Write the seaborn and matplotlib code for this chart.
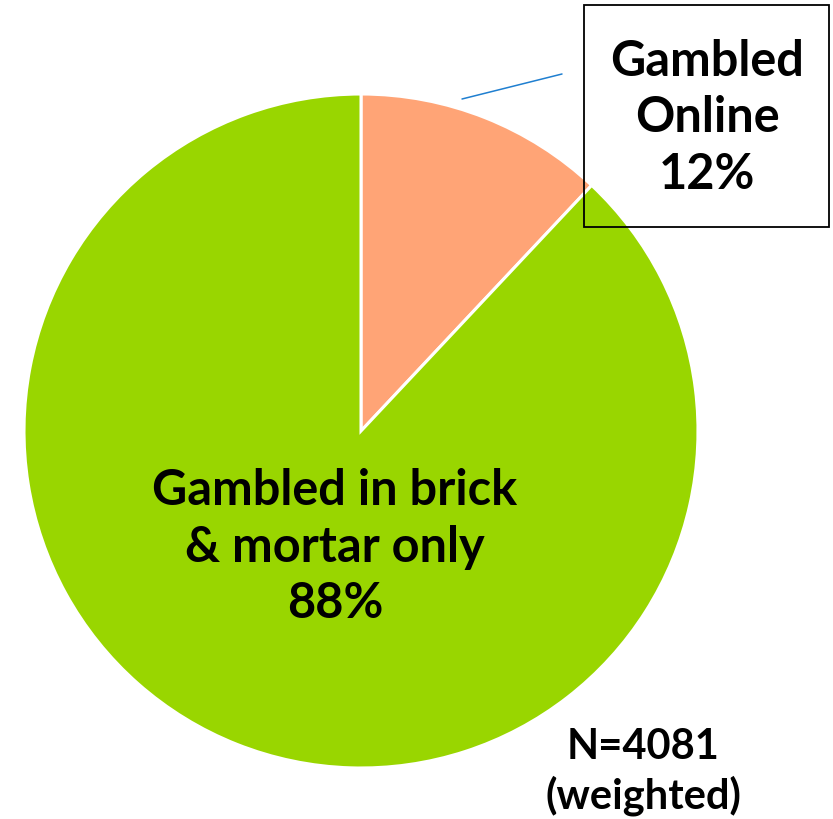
import matplotlib
matplotlib.use("Agg")
import matplotlib.pyplot as plt
import seaborn as sns
from matplotlib.patches import Rectangle

categories = ["Gambled Online", "Gambled in brick\n& mortar only"]
values = [12, 88]
colors = ["#FFA476", "#99D600"]
note = "N=4081\n(weighted)"

sns.set_theme(style="white")
plt.rcParams['font.family'] = ['Lato', 'DejaVu Sans']

W, H = 833, 820
fig = plt.figure(figsize=(W / 100, H / 100), dpi=100)
ax = fig.add_axes([0, 0, 1, 1])
ax.set_xlim(0, W)
ax.set_ylim(0, H)
ax.set_aspect('equal')
ax.axis('off')

cx, cy, r = 361, H - 432, 337
ax.pie(values, colors=colors, startangle=90, counterclock=False,
       center=(cx, cy), radius=r, frame=True,
       wedgeprops=dict(edgecolor='white', linewidth=2.2))
ax.set_xlim(0, W)
ax.set_ylim(0, H)
ax.axis('off')

# Online label box
ax.add_patch(Rectangle((584, H - 228), 245, 222, fill=False,
                       edgecolor='black', linewidth=1.3, zorder=5))
ax.text(707, H - 118, f"Gambled\nOnline\n{values[0]}%", ha='center', va='center',
        fontsize=35, fontweight='bold', color='black', linespacing=1.32, zorder=6)
ax.plot([462, 562], [H - 100, H - 75], color='#1F7FD0', linewidth=1.1, zorder=6)

# Main label
ax.text(335, H - 547, f"{categories[1]}\n{values[1]}%", ha='center', va='center',
        fontsize=35, fontweight='bold', color='black', linespacing=1.32, zorder=6)

# N note
ax.text(643, H - 772, note, ha='center', va='center',
        fontsize=30, fontweight='bold', color='black', linespacing=1.3, zorder=6)

fig.savefig("out.png", dpi=100)
